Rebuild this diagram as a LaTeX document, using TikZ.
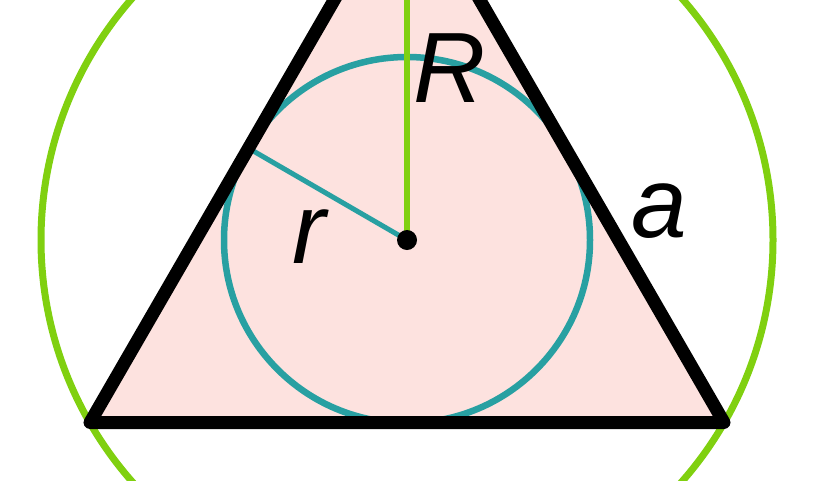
\documentclass[tikz,border=0pt]{standalone}
\usepackage{fontspec}
\setmainfont{Liberation Sans}
\definecolor{pinkfill}{RGB}{253,226,223}
\definecolor{circgreen}{RGB}{128,208,16}
\definecolor{tealc}{RGB}{40,160,162}
\begin{document}
\begin{tikzpicture}[x=1pt,y=-1pt,
  lbl/.style={font=\fontsize{100}{100}\selectfont\itshape, inner sep=0pt},
  edge/.style={line width=13pt, line join=round, line cap=round}]
\useasboundingbox (0,0) rectangle (816,480);
\begin{scope}
\clip (0,0) rectangle (816,480);
\coordinate (O) at (407,240);
\coordinate (A) at (407,-126);
\coordinate (B) at (90,422.5);
\coordinate (C) at (724,422.5);
\coordinate (T) at (249,148.5);
\fill[pinkfill] (A) -- (B) -- (C) -- cycle;
\draw[circgreen, line width=7pt] (O) circle[radius=366];
\draw[tealc, line width=6.5pt] (O) circle[radius=183];
\draw[circgreen, line width=6pt] (O) -- (A);
\draw[tealc, line width=5pt] (O) -- (T);
\draw[edge] (A) -- (B) -- (C) -- cycle;
\fill (O) circle[radius=10];
\node[lbl] (lR) at (450,68) {R};
\node[lbl] (lr) at (309,237) {r};
\node[lbl] (la) at (659,211) {a};
\end{scope}
\end{tikzpicture}
\end{document}
